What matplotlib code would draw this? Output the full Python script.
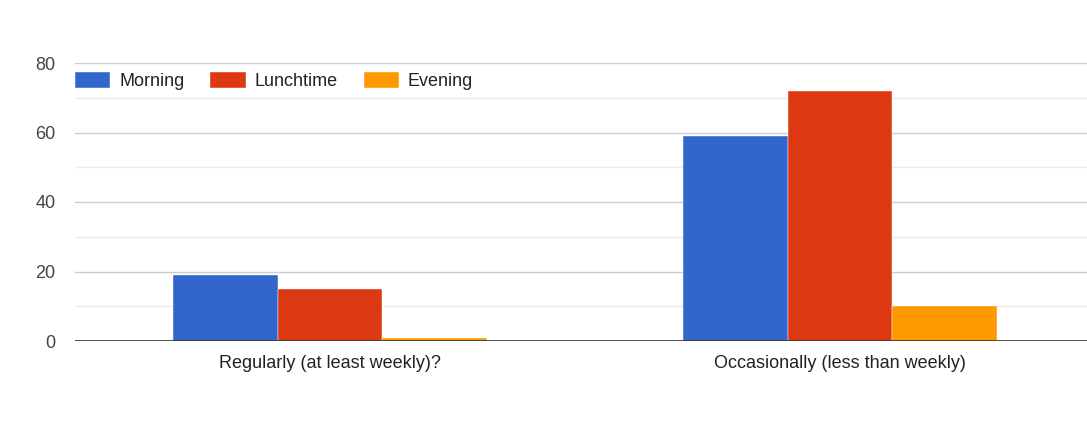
import numpy as np
import matplotlib.pyplot as plt
from matplotlib.ticker import MultipleLocator

# ------------------------
# Data
# ------------------------
categories = ["Regularly (at least weekly)?", "Occasionally (less than weekly)"]
series_names = ["Morning", "Lunchtime", "Evening"]
morning = [19, 59]
lunchtime = [15, 72]
evening = [1, 10]

colors = ["#3366cc", "#dc3912", "#ff9900"]

plt.rcParams['font.family'] = ['Liberation Sans', 'DejaVu Sans']

fig = plt.figure(figsize=(10.87, 4.41), dpi=100)
ax = fig.add_axes([75 / 1087, 1 - 341 / 441, 1020 / 1087, (341 - 63) / 441])

x = np.arange(len(categories))
w = 0.205
for i, (vals, name) in enumerate(zip([morning, lunchtime, evening], series_names)):
    ax.bar(x + (i - 1) * w, vals, width=w, color=colors[i], label=name,
           edgecolor="white", linewidth=0.3, zorder=3)

ax.set_xlim(-0.5, 1.5)
ax.set_ylim(0, 80)
ax.yaxis.set_major_locator(MultipleLocator(20))
ax.yaxis.set_minor_locator(MultipleLocator(10))
ax.grid(which="major", axis="y", color="#cccccc", linewidth=1, zorder=0)
ax.grid(which="minor", axis="y", color="#ebebeb", linewidth=1, zorder=0)
ax.axhline(0, color="#333333", linewidth=1.2, zorder=4)

for s in ax.spines.values():
    s.set_visible(False)

ax.set_xticks(x)
ax.set_xticklabels(categories)
ax.tick_params(axis="x", length=0, pad=10, labelsize=13, labelcolor="#222222")
ax.tick_params(axis="y", which="both", length=0, pad=14, labelsize=13, labelcolor="#444444")

leg = ax.legend(loc="center left", bbox_to_anchor=(0.0, 0.935), ncol=3, frameon=False,
                fontsize=13, handlelength=1.94, handleheight=1.0, handletextpad=0.5,
                columnspacing=1.45, borderaxespad=0, borderpad=0)
for t in leg.get_texts():
    t.set_color("#222222")

fig.savefig("out.png", dpi=100)
